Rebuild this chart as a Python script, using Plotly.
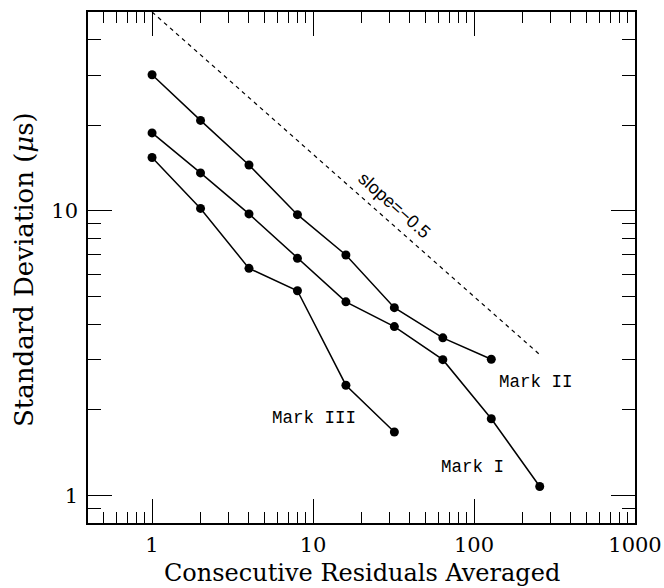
import plotly.graph_objects as go
import numpy as np

# Data
n_avg = [1, 2, 4, 8, 16, 32, 64, 128, 256]
mark1 = [18.8, 13.6, 9.76, 6.81, 4.79, 3.92, 3.0, 1.86, 1.075]
mark2 = [30.1, 20.8, 14.5, 9.7, 7.0, 4.57, 3.58, 3.01]
mark3 = [15.4, 10.2, 6.28, 5.24, 2.44, 1.67]
slope_x = [1, 256]
slope_y = [50, 50 / 16]

x_major = [1, 10, 100, 1000]
x_minor = [v * m for v in [0.1, 1, 10, 100] for m in range(2, 10) if 0.4 < v * m < 1000]
y_major = [1, 10]
y_minor = [0.9] + [m for m in range(2, 10)] + [20, 30, 40]

serif = "DejaVu Serif"
mono = "Liberation Mono"

L, R, T, B = 88, 635, 12, 523
W, H = R - L, B - T

def px(x):
    return (x - L) / W

def py(y):
    return (B - y) / H

fig = go.Figure()
line = dict(color="black", width=1.5)
mk = dict(color="black", size=9)
for ys in (mark1, mark2, mark3):
    fig.add_trace(go.Scatter(x=n_avg[:len(ys)], y=ys, mode="lines+markers",
                             line=line, marker=mk, showlegend=False))
fig.add_trace(go.Scatter(x=slope_x, y=slope_y, mode="lines",
                         line=dict(color="black", width=1.2, dash="4px,4px"),
                         showlegend=False))

axis_common = dict(type="log", showgrid=False, zeroline=False, showline=True,
                   linecolor="black", linewidth=1.5, ticks="inside",
                   mirror="allticks", tickcolor="black", tickwidth=1.2,
                   ticklen=24, automargin=False,
                   tickfont=dict(family=serif, size=21, color="black"))

fig.update_xaxes(**axis_common, range=[np.log10(0.4), 3], tickmode="array",
                 tickvals=x_major, ticktext=[str(v) for v in x_major],
                 ticklabelstandoff=2,
                 minor=dict(tickmode="array", tickvals=x_minor, ticks="inside",
                            ticklen=11, tickcolor="black", tickwidth=1.2))
fig.update_yaxes(**axis_common, range=[np.log10(0.8), np.log10(50)], tickmode="array",
                 tickvals=y_major, ticktext=[str(v) for v in y_major],
                 ticklabelstandoff=4,
                 minor=dict(tickmode="array", tickvals=y_minor, ticks="inside",
                            ticklen=13, tickcolor="black", tickwidth=1.2))

# axis titles
fig.add_annotation(text="Consecutive Residuals Averaged", xref="paper", yref="paper",
                   x=px(362), y=py(573), xanchor="center", yanchor="middle",
                   showarrow=False, font=dict(family=serif, size=24, color="black"))
fig.add_annotation(text="Standard Deviation (<i>μ</i>s)", xref="paper", yref="paper",
                   x=px(24), y=py(270), xanchor="center", yanchor="middle",
                   textangle=-90, showarrow=False,
                   font=dict(family=serif, size=26, color="black"))

labels = [("Mark II", 536, 382), ("Mark I", 472, 467), ("Mark III", 314, 418)]
for txt, lx, ly in labels:
    fig.add_annotation(text=txt, xref="paper", yref="paper",
                       x=px(lx), y=py(ly), xanchor="center", yanchor="middle",
                       showarrow=False, font=dict(family=mono, size=17.5, color="black"))
fig.add_annotation(text="slope=−0.5", xref="paper", yref="paper",
                   x=px(394), y=py(205), xanchor="center", yanchor="middle",
                   showarrow=False, textangle=41.5,
                   font=dict(family="Liberation Sans", size=18, color="black"))

fig.update_layout(width=664, height=588, margin=dict(l=L, r=664 - R, t=T, b=588 - B),
                  paper_bgcolor="white", plot_bgcolor="white")
fig.write_html("out.html")
